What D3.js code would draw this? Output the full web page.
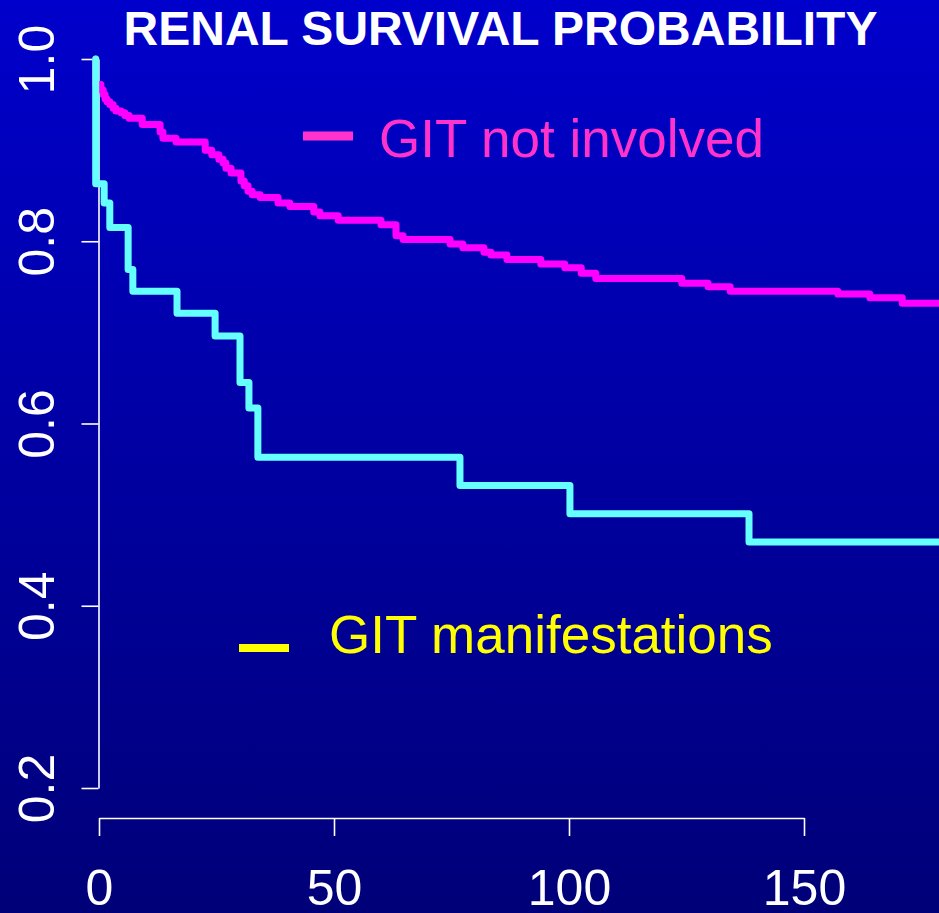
<!DOCTYPE html>
<html>
<head>
<meta charset="utf-8">
<script src="https://cdn.jsdelivr.net/npm/d3@7"></script>
<style>
  html, body { margin: 0; padding: 0; background: #000090; }
  svg { display: block; }
  text { font-family: "Liberation Sans", Arial, Helvetica, sans-serif; }
</style>
</head>
<body>
<script>
// Kaplan-Meier renal survival, two groups (time in months)
const notInvolvedTimes = [-0.7, -0.7, 0.4, 0.9, 1.3, 1.7, 2.3, 3.0, 3.6, 4.7, 5.5, 6.4, 9.2, 13.0, 13.6, 16.4,
  22.6, 24.0, 25.5, 26.4, 27.0, 28.1, 30.2, 30.9, 31.7, 32.6, 34.3, 38.1, 40.6, 45.7, 47.0, 50.9,
  60.0, 63.2, 64.7, 74.7, 77.4, 81.9, 83.4, 86.8, 94.0, 99.1, 102.6, 105.7, 124.0, 129.6, 134.3,
  157.2, 164.0, 170.9, 180];
const notInvolvedSurv = [1.0, 0.972, 0.966, 0.961, 0.956, 0.953, 0.950, 0.946, 0.943, 0.941, 0.938, 0.935, 0.928, 0.920, 0.913, 0.909,
  0.900, 0.895, 0.890, 0.886, 0.880, 0.875, 0.866, 0.861, 0.855, 0.851, 0.848, 0.842, 0.838, 0.832, 0.828, 0.823,
  0.818, 0.806, 0.802, 0.797, 0.793, 0.788, 0.785, 0.780, 0.775, 0.771, 0.765, 0.759, 0.754, 0.750, 0.745,
  0.742, 0.738, 0.732, 0.732];

const gitTimes = [-0.7, -0.7, 1.1, 2.3, 6.2, 7.2, 16.6, 24.7, 30.0, 31.9, 33.8, 76.8, 100.2, 138.3, 180];
const gitSurv  = [1.0, 0.863, 0.842, 0.815, 0.769, 0.745, 0.721, 0.696, 0.645, 0.617, 0.563, 0.532, 0.501, 0.470, 0.470];

const xTicks = [0, 50, 100, 150];
const yTicks = [0.2, 0.4, 0.6, 0.8, 1.0];

const titleText = "RENAL SURVIVAL PROBABILITY";
const legendLabels = ["GIT not involved", "GIT manifestations"];
const legendColors = ["#ff33cc", "#ffff00"];
const curveColors = ["#ff00ff", "#66ffff"];

const W = 939, H = 913;
const svg = d3.select("body").append("svg").attr("width", W).attr("height", H);

// background: vertical blue gradient
const defs = svg.append("defs");
const grad = defs.append("linearGradient").attr("id", "bg").attr("x1", 0).attr("y1", 0).attr("x2", 0).attr("y2", 1);
grad.append("stop").attr("offset", "0%").attr("stop-color", "#0000cc");
grad.append("stop").attr("offset", "100%").attr("stop-color", "#000078");
svg.append("rect").attr("width", W).attr("height", H).attr("fill", "url(#bg)");

const x = d3.scaleLinear().domain([0, 150]).range([99, 804]);
const y = d3.scaleLinear().domain([0.2, 1.0]).range([788, 59]);

// title
svg.append("text")
  .attr("x", 500.5).attr("y", 45)
  .attr("text-anchor", "middle")
  .attr("fill", "#ffffff")
  .style("font-size", "48px").style("font-weight", "bold")
  .text(titleText);

// y axis
const yAxis = svg.append("g").attr("transform", "translate(98.5,0)")
  .call(d3.axisLeft(y).tickValues(yTicks).tickSize(17).tickSizeOuter(0).tickFormat(d3.format(".1f")));
// x axis
const xAxis = svg.append("g").attr("transform", "translate(0,818)")
  .call(d3.axisBottom(x).tickValues(xTicks).tickSize(18).tickSizeOuter(0).tickFormat(d3.format("d")));

[yAxis, xAxis].forEach(g => {
  g.select(".domain").attr("stroke", "#ffffff").attr("stroke-width", 1.6);
  g.selectAll(".tick line").attr("stroke", "#ffffff").attr("stroke-width", 1.6);
  g.selectAll(".tick text").attr("fill", "#ffffff").style("font-size", "50px")
    .style("font-family", "'Liberation Sans', Arial, Helvetica, sans-serif");
});
yAxis.selectAll(".tick text")
  .attr("transform", "rotate(-90)")
  .attr("x", 0).attr("y", -45).attr("dy", 0)
  .attr("text-anchor", "middle");
xAxis.selectAll(".tick text")
  .attr("y", 87).attr("dy", 0)
  .attr("text-anchor", "middle");

// survival curves
const line = d3.line().x(d => x(d[0])).y(d => y(d[1])).curve(d3.curveStepAfter);
const series = [
  d3.zip(notInvolvedTimes, notInvolvedSurv),
  d3.zip(gitTimes, gitSurv)
];
series.forEach((pts, i) => {
  svg.append("path")
    .datum(pts)
    .attr("d", line)
    .attr("fill", "none")
    .attr("stroke", curveColors[i])
    .attr("stroke-width", 7)
    .attr("stroke-linejoin", "round")
    .attr("stroke-linecap", "round");
});

// legend labels
const legend = [
  { dash: [303, 131.5, 50, 9], tx: 379, ty: 157 },
  { dash: [239, 644, 50, 8], tx: 329, ty: 653 }
];
legend.forEach((l, i) => {
  svg.append("rect")
    .attr("x", l.dash[0]).attr("y", l.dash[1]).attr("width", l.dash[2]).attr("height", l.dash[3])
    .attr("fill", legendColors[i]);
  svg.append("text")
    .attr("x", l.tx).attr("y", l.ty)
    .attr("fill", legendColors[i])
    .style("font-size", "53px")
    .text(legendLabels[i]);
});
</script>
</body>
</html>
